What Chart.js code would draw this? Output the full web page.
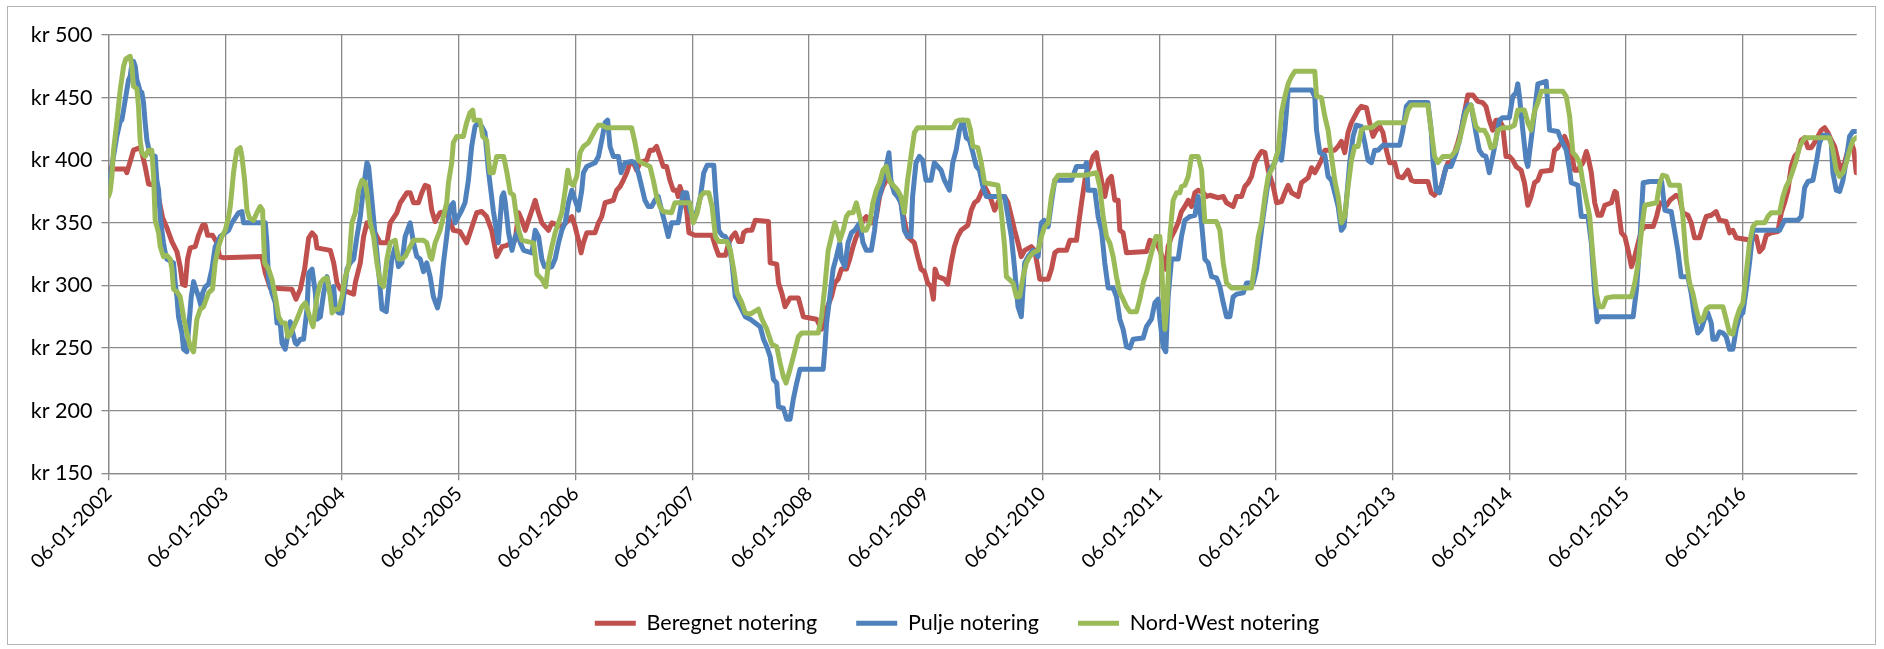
<!DOCTYPE html>
<html lang="da">
<head>
<meta charset="utf-8">
<title>Notering</title>
<script src="https://cdn.jsdelivr.net/npm/chart.js@4.4.1/dist/chart.umd.min.js"></script>
<style>
  html, body { margin: 0; padding: 0; background: #fff; }
  #ramme { width: 1884px; height: 649px; }
</style>
</head>
<body>
<div id="ramme"><canvas id="notering" width="1884" height="649"></canvas></div>
<script>
// Tid i år efter 06-01-2002, kr pr. enhed

const beregnetTid = [
  0, 0.143, 0.157, 0.186, 0.214, 0.271, 0.291, 0.314, 0.343, 0.4, 0.429, 0.463, 0.5, 0.543, 0.586, 0.614, 0.634, 0.657, 0.677, 0.7, 0.743, 0.771, 0.806, 0.829, 0.849, 0.891, 0.929, 0.951, 0.986, 1.314, 1.343, 1.386, 1.571, 1.606, 1.643, 1.68,
  1.715, 1.744, 1.772, 1.786, 1.9, 1.929, 1.957, 1.986, 2.1, 2.114, 2.157, 2.185, 2.214, 2.271, 2.328, 2.385, 2.413, 2.47, 2.499, 2.556, 2.584, 2.613, 2.655, 2.684, 2.712, 2.741, 2.769, 2.798, 2.84, 2.897, 2.954, 3.011, 3.068, 3.125, 3.154, 3.197, 3.239, 3.282, 3.325,
  3.37, 3.413, 3.456, 3.484, 3.513, 3.541, 3.57, 3.598, 3.627, 3.655, 3.684, 3.712, 3.769, 3.798, 3.883, 3.94, 3.969, 3.997, 4.026, 4.048, 4.068, 4.097, 4.168, 4.197, 4.225, 4.254, 4.325, 4.353, 4.382, 4.41, 4.439, 4.467, 4.496, 4.524, 4.553, 4.61, 4.638, 4.667, 4.695, 4.724, 4.752, 4.781, 4.809, 4.838, 4.866, 4.88, 4.895, 4.923, 4.952, 4.972, 5.023,
  5.17, 5.199, 5.227, 5.284, 5.313, 5.341, 5.369, 5.398, 5.426, 5.44, 5.469, 5.511, 5.54, 5.653, 5.668, 5.724, 5.739, 5.767, 5.795, 5.838, 5.909, 5.952, 6.065, 6.108, 6.122, 6.151, 6.193, 6.222, 6.25, 6.278, 6.321, 6.349, 6.378, 6.406, 6.435, 6.463, 6.491, 6.52, 6.548, 6.577, 6.605, 6.634, 6.662, 6.69,
  6.702, 6.731, 6.759, 6.788, 6.817, 6.845, 6.903, 6.931, 6.96, 6.989, 7.017, 7.046, 7.066, 7.08, 7.103, 7.16, 7.189, 7.218, 7.246, 7.275, 7.304, 7.361, 7.39, 7.418, 7.447, 7.476, 7.504, 7.533, 7.562, 7.59, 7.619, 7.648, 7.676, 7.705, 7.734, 7.762, 7.791, 7.819, 7.848, 7.905, 7.934, 7.963, 7.977, 8.049, 8.077, 8.106, 8.135, 8.206, 8.235, 8.292, 8.307, 8.335, 8.364,
  8.377, 8.406, 8.434, 8.463, 8.477, 8.506, 8.534, 8.563, 8.591, 8.62, 8.649, 8.663, 8.691, 8.72, 8.891, 8.92, 8.977, 9.006, 9.034, 9.057, 9.077, 9.106, 9.134, 9.163, 9.191, 9.22, 9.249, 9.277, 9.306, 9.334, 9.377, 9.406, 9.434, 9.506, 9.549, 9.577, 9.634, 9.663, 9.706, 9.734, 9.763, 9.791, 9.82, 9.849, 9.877, 9.906, 9.934, 9.977, 10.006,
  10.048, 10.077, 10.105, 10.134, 10.191, 10.219, 10.276, 10.305, 10.333, 10.362, 10.39, 10.419, 10.504, 10.533, 10.561, 10.59, 10.618, 10.647, 10.675, 10.704, 10.732, 10.775, 10.803, 10.832, 10.86, 10.889, 10.917, 10.946, 10.974, 11.017, 11.046, 11.088, 11.131, 11.16, 11.188, 11.302, 11.33, 11.359, 11.387, 11.416, 11.444, 11.473, 11.501, 11.53, 11.558, 11.587, 11.615, 11.644, 11.687,
  11.728, 11.771, 11.799, 11.828, 11.857, 11.885, 11.914, 11.943, 11.971, 12, 12.029, 12.057, 12.1, 12.129, 12.158, 12.186, 12.215, 12.244, 12.272, 12.358, 12.387, 12.415, 12.444, 12.473, 12.501, 12.53, 12.559, 12.587, 12.63, 12.659, 12.673, 12.702, 12.731, 12.759, 12.788, 12.817, 12.874, 12.903, 12.917, 12.946, 12.96, 12.989, 13.017, 13.046, 13.074, 13.103, 13.132, 13.16, 13.232, 13.261, 13.289, 13.347, 13.375,
  13.429, 13.457, 13.486, 13.529, 13.557, 13.586, 13.629, 13.657, 13.686, 13.729, 13.771, 13.8, 13.857, 13.886, 13.914, 13.943, 14.071, 14.114, 14.143, 14.171, 14.2, 14.243, 14.3, 14.329, 14.357, 14.386, 14.414, 14.443, 14.471, 14.5, 14.529, 14.557, 14.586, 14.614, 14.643, 14.671, 14.7, 14.729, 14.757, 14.786, 14.814, 14.843, 14.871, 14.9, 14.929, 14.951, 14.971
];
const beregnetKr = [
  393, 393, 390, 399, 408, 410, 404, 395, 381, 380, 370, 354, 346, 335, 327, 315, 301, 300, 321, 330, 331, 340, 348, 348, 340, 340, 334, 323, 322, 323, 310, 298, 297, 289, 297, 313,
  338, 342, 339, 330, 328, 318, 302, 297, 293, 302, 318, 339, 350, 344, 334, 334, 350, 358, 366, 374, 374, 366, 366, 374, 380, 379, 360, 351, 358, 359, 344, 343, 334, 350, 358, 359, 355, 344, 323,
  331, 332, 334, 336, 358, 352, 344, 352, 360, 368, 358, 350, 344, 350, 347, 352, 355, 347, 336, 326, 334, 342, 342, 350, 355, 366, 368, 376, 379, 384, 390, 398, 398, 392, 398, 400, 408, 408, 411, 403, 395, 395, 384, 376, 376, 371, 379, 371, 360, 342, 340,
  340, 331, 324, 324, 334, 339, 342, 335, 335, 342, 344, 344, 352, 351, 318, 317, 302, 294, 283, 290, 290, 275, 273, 265, 270, 281, 291, 302, 305, 313, 313, 321, 331, 339, 344, 352, 355, 350, 350, 355, 371, 379, 384, 387,
  382, 376, 374, 366, 352, 339, 334, 323, 313, 311, 302, 299, 289, 313, 307, 305, 301, 318, 331, 339, 344, 348, 360, 366, 368, 374, 379, 374, 368, 360, 366, 371, 371, 366, 355, 344, 334, 323, 328, 331, 328, 313, 305, 305, 313, 326, 328, 328, 336, 336, 347, 366, 384,
  390, 395, 403, 406, 398, 384, 371, 384, 387, 368, 368, 344, 342, 326, 327, 336, 334, 328, 321, 313, 331, 339, 344, 350, 359, 363, 368, 363, 374, 376, 374, 371, 372, 370, 371, 366, 363, 371, 371, 379, 382, 387, 398, 403, 407, 406, 392, 379, 366,
  367, 374, 380, 374, 371, 382, 386, 394, 390, 395, 400, 408, 408, 411, 415, 406, 422, 430, 435, 440, 443, 442, 430, 419, 424, 427, 422, 408, 398, 398, 387, 386, 392, 384, 383, 383, 374, 372, 376, 379, 390, 398, 398, 406, 414, 424, 438, 452, 452,
  447, 446, 443, 432, 424, 432, 432, 427, 403, 403, 400, 395, 392, 382, 364, 371, 382, 384, 391, 392, 408, 410, 414, 419, 412, 406, 392, 392, 398, 407, 403, 390, 366, 356, 356, 364, 366, 375, 374, 352, 342, 339, 328, 315, 323, 334, 344, 347, 347, 355, 366, 364, 368,
  372, 370, 358, 356, 350, 338, 338, 347, 355, 356, 359, 352, 351, 342, 344, 338, 336, 339, 327, 330, 340, 342, 343, 358, 366, 376, 395, 403, 406, 416, 418, 410, 410, 414, 419, 424, 426, 422, 416, 411, 400, 392, 398, 408, 414, 408, 390
];

const puljeTid = [
  0, 0.014, 0.043, 0.071, 0.1, 0.114, 0.129, 0.157, 0.171, 0.186, 0.2, 0.214, 0.229, 0.243, 0.257, 0.271, 0.286, 0.3, 0.314, 0.329, 0.343, 0.371, 0.4, 0.414, 0.429, 0.443, 0.457, 0.471, 0.486, 0.5, 0.557, 0.571, 0.586, 0.6, 0.629, 0.643, 0.671, 0.686, 0.709, 0.729, 0.749, 0.771, 0.794, 0.806, 0.829, 0.857, 0.886, 0.914, 0.943, 0.957, 1, 1.029, 1.057, 1.114, 1.143, 1.157, 1.343, 1.357, 1.371, 1.4, 1.429, 1.443, 1.471, 1.486, 1.514, 1.529, 1.557, 1.571, 1.6, 1.614, 1.643, 1.671,
  1.701, 1.715, 1.744, 1.772, 1.786, 1.815, 1.843, 1.872, 1.9, 1.929, 1.943, 1.972, 2, 2.014, 2.043, 2.071, 2.1, 2.128, 2.157, 2.185, 2.214, 2.228, 2.256, 2.285, 2.313, 2.342, 2.379, 2.399, 2.427, 2.456, 2.484, 2.513, 2.541, 2.584, 2.613, 2.641, 2.67, 2.698, 2.726, 2.755, 2.783, 2.818, 2.84, 2.869, 2.897, 2.926, 2.954, 2.969, 2.997, 3.026, 3.054, 3.083, 3.111, 3.14, 3.168, 3.197, 3.225, 3.254, 3.296, 3.339,
  3.37, 3.385, 3.399, 3.427, 3.456, 3.484, 3.513, 3.527, 3.556, 3.627, 3.655, 3.684, 3.712, 3.735, 3.769, 3.798, 3.826, 3.855, 3.883, 3.912, 3.94, 3.969, 3.997, 4.026, 4.054, 4.068, 4.097, 4.168, 4.197, 4.225, 4.254, 4.276, 4.296, 4.325, 4.368, 4.39, 4.425, 4.481, 4.51, 4.538, 4.567, 4.595, 4.624, 4.652, 4.681, 4.709, 4.738, 4.766, 4.795, 4.823, 4.88, 4.923, 4.952, 4.98, 5.009,
  5.043, 5.071, 5.099, 5.128, 5.185, 5.199, 5.227, 5.256, 5.284, 5.313, 5.341, 5.369, 5.412, 5.455, 5.497, 5.54, 5.582, 5.611, 5.639, 5.668, 5.696, 5.724, 5.739, 5.781, 5.81, 5.838, 5.866, 5.895, 5.923, 6.122, 6.136, 6.151, 6.179, 6.207, 6.236, 6.264, 6.278, 6.307, 6.335, 6.364, 6.392, 6.435, 6.463, 6.491, 6.534, 6.562, 6.591, 6.619, 6.662, 6.685,
  6.702, 6.731, 6.759, 6.788, 6.817, 6.845, 6.874, 6.888, 6.917, 6.946, 6.974, 7.003, 7.046, 7.074, 7.103, 7.132, 7.16, 7.203, 7.232, 7.261, 7.289, 7.318, 7.347, 7.375, 7.404, 7.433, 7.461, 7.49, 7.519, 7.676, 7.705, 7.734, 7.762, 7.791, 7.819, 7.848, 7.877, 7.92, 7.963, 7.991, 8.014, 8.049, 8.077, 8.106, 8.249, 8.292, 8.364,
  8.377, 8.391, 8.449, 8.477, 8.506, 8.534, 8.563, 8.606, 8.634, 8.663, 8.691, 8.72, 8.749, 8.777, 8.863, 8.891, 8.934, 8.963, 8.991, 9.006, 9.034, 9.057, 9.077, 9.106, 9.163, 9.191, 9.22, 9.263, 9.306, 9.334, 9.363, 9.391, 9.42, 9.449, 9.491, 9.52, 9.549, 9.577, 9.606, 9.634, 9.663, 9.72, 9.749, 9.806, 9.834, 9.863, 9.891, 9.92, 9.949, 9.991, 10.02,
  10.048, 10.077, 10.105, 10.305, 10.333, 10.348, 10.376, 10.419, 10.447, 10.476, 10.504, 10.533, 10.561, 10.584, 10.604, 10.632, 10.661, 10.689, 10.732, 10.761, 10.789, 10.818, 10.846, 10.875, 10.917, 11.06, 11.088, 11.117, 11.145, 11.302, 11.33, 11.345, 11.373, 11.402, 11.43, 11.459, 11.501, 11.544, 11.573, 11.615, 11.644, 11.672,
  11.713, 11.742, 11.771, 11.799, 11.828, 11.857, 11.885, 11.914, 11.943, 12, 12.029, 12.057, 12.072, 12.086, 12.115, 12.143, 12.158, 12.186, 12.215, 12.244, 12.315, 12.344, 12.415, 12.444, 12.487, 12.516, 12.53, 12.587, 12.616, 12.673, 12.702, 12.731, 12.751, 12.774, 13.06, 13.089, 13.117, 13.146, 13.203, 13.304, 13.332, 13.375,
  13.386, 13.414, 13.443, 13.471, 13.529, 13.557, 13.586, 13.614, 13.643, 13.671, 13.7, 13.729, 13.743, 13.771, 13.8, 13.829, 13.857, 13.886, 13.914, 13.943, 13.971, 14, 14.029, 14.057, 14.086, 14.314, 14.357, 14.471, 14.5, 14.529, 14.557, 14.6, 14.629, 14.657, 14.686, 14.729, 14.757, 14.771, 14.8, 14.829, 14.857, 14.886, 14.914, 14.943, 14.971
];
const puljeKr = [
  381, 387, 403, 419, 431, 432, 440, 456, 464, 467, 477, 479, 475, 464, 460, 455, 454, 446, 430, 416, 410, 404, 403, 384, 376, 355, 344, 334, 326, 321, 318, 302, 291, 275, 262, 249, 247, 265, 291, 303, 297, 291, 283, 294, 299, 301, 313, 331, 336, 339, 342, 344, 350, 358, 359, 350, 350, 334, 305, 294, 286, 270, 270, 254, 249, 257, 271, 265, 254, 253, 257, 257,
  282, 310, 313, 294, 273, 275, 294, 307, 294, 299, 281, 278, 278, 291, 313, 318, 321, 339, 355, 379, 398, 395, 368, 339, 313, 281, 279, 297, 321, 331, 315, 318, 339, 350, 334, 323, 321, 311, 318, 307, 291, 282, 291, 318, 339, 363, 366, 350, 355, 360, 366, 384, 411, 427, 430, 427, 422, 392, 360, 334,
  371, 374, 366, 342, 328, 339, 344, 334, 328, 326, 344, 339, 321, 315, 314, 315, 321, 334, 344, 350, 366, 376, 368, 360, 376, 390, 395, 398, 403, 416, 430, 432, 411, 403, 403, 390, 398, 399, 398, 390, 379, 368, 363, 363, 368, 371, 360, 350, 339, 350, 350, 374, 374, 360, 352,
  360, 371, 390, 396, 396, 376, 344, 340, 339, 334, 318, 291, 283, 275, 273, 270, 267, 257, 251, 243, 225, 222, 203, 202, 193, 193, 209, 222, 233, 233, 249, 270, 291, 313, 323, 334, 321, 315, 334, 342, 344, 350, 334, 328, 328, 344, 368, 376, 395, 406,
  384, 374, 371, 366, 344, 339, 339, 371, 398, 403, 400, 384, 384, 398, 395, 392, 384, 376, 398, 408, 424, 432, 418, 416, 406, 395, 392, 379, 371, 371, 355, 339, 313, 283, 275, 318, 323, 328, 323, 350, 352, 347, 366, 384, 384, 395, 395,
  398, 376, 376, 355, 344, 318, 298, 298, 291, 273, 265, 251, 250, 257, 258, 267, 273, 286, 289, 273, 251, 247, 291, 321, 321, 339, 352, 355, 356, 371, 350, 321, 318, 307, 306, 299, 286, 275, 275, 291, 293, 294, 302, 302, 313, 334, 355, 374, 392, 398, 408,
  400, 424, 456, 456, 451, 424, 406, 404, 387, 384, 374, 363, 344, 347, 368, 398, 419, 428, 427, 414, 400, 398, 408, 408, 412, 412, 424, 443, 446, 446, 424, 400, 376, 374, 384, 395, 395, 406, 416, 438, 444, 444,
  422, 408, 404, 403, 390, 403, 416, 432, 434, 434, 451, 454, 461, 451, 424, 400, 395, 416, 438, 461, 463, 424, 423, 416, 408, 392, 382, 380, 355, 355, 334, 294, 271, 275, 275, 297, 334, 382, 383, 383, 360, 359,
  359, 344, 328, 307, 307, 294, 275, 262, 265, 273, 278, 270, 257, 257, 263, 262, 259, 249, 249, 265, 275, 278, 297, 318, 344, 344, 352, 352, 355, 378, 383, 384, 398, 414, 420, 420, 414, 390, 376, 375, 384, 400, 419, 423, 423
];

const nordWestTid = [
  0, 0.014, 0.029, 0.043, 0.071, 0.1, 0.129, 0.149, 0.186, 0.2, 0.214, 0.243, 0.257, 0.271, 0.286, 0.314, 0.343, 0.371, 0.386, 0.4, 0.429, 0.443, 0.471, 0.5, 0.529, 0.543, 0.557, 0.586, 0.614, 0.643, 0.671, 0.7, 0.729, 0.757, 0.786, 0.814, 0.857, 0.891, 0.914, 0.943, 0.971, 1, 1.029, 1.043, 1.057, 1.071, 1.086, 1.1, 1.129, 1.143, 1.166, 1.186, 1.206, 1.243, 1.271, 1.3, 1.32, 1.337, 1.371, 1.4, 1.429, 1.457, 1.486, 1.514, 1.537, 1.557, 1.586, 1.614, 1.657, 1.686,
  1.701, 1.729, 1.752, 1.786, 1.815, 1.843, 1.872, 1.9, 1.915, 1.943, 1.972, 2, 2.028, 2.057, 2.085, 2.114, 2.142, 2.171, 2.199, 2.214, 2.242, 2.271, 2.299, 2.328, 2.356, 2.385, 2.413, 2.456, 2.484, 2.513, 2.541, 2.584, 2.613, 2.698, 2.726, 2.755, 2.769, 2.798, 2.84, 2.869, 2.897, 2.912, 2.94, 2.954, 2.983, 3.04, 3.068, 3.097, 3.12, 3.131, 3.182, 3.205, 3.239, 3.268, 3.296, 3.325,
  3.385, 3.413, 3.442, 3.47, 3.49, 3.513, 3.541, 3.641, 3.655, 3.67, 3.712, 3.746, 3.769, 3.798, 3.826, 3.855, 3.883, 3.912, 3.934, 3.954, 3.983, 4.011, 4.04, 4.068, 4.111, 4.14, 4.168, 4.197, 4.225, 4.268, 4.481, 4.51, 4.538, 4.567, 4.638, 4.667, 4.695, 4.724, 4.752, 4.823, 4.852, 4.98, 5.009,
  5.043, 5.071, 5.099, 5.142, 5.17, 5.199, 5.227, 5.298, 5.327, 5.355, 5.384, 5.426, 5.455, 5.497, 5.568, 5.597, 5.639, 5.682, 5.724, 5.753, 5.781, 5.804, 5.832, 5.866, 5.909, 5.938, 6.08, 6.108, 6.136, 6.165, 6.193, 6.222, 6.264, 6.293, 6.321, 6.344, 6.378, 6.406, 6.435, 6.463, 6.491, 6.52, 6.548, 6.577, 6.605, 6.634, 6.662, 6.69,
  6.702, 6.731, 6.759, 6.788, 6.817, 6.845, 6.874, 6.903, 6.931, 7.232, 7.261, 7.289, 7.361, 7.384, 7.404, 7.447, 7.476, 7.504, 7.619, 7.648, 7.676, 7.691, 7.748, 7.777, 7.805, 7.834, 7.862, 7.891, 7.92, 7.963, 7.991, 8.02, 8.049, 8.077, 8.106, 8.135, 8.364,
  8.463, 8.491, 8.52, 8.549, 8.577, 8.606, 8.634, 8.663, 8.691, 8.72, 8.749, 8.806, 8.834, 8.863, 8.891, 8.92, 8.949, 8.971, 9.006, 9.02, 9.034, 9.049, 9.069, 9.091, 9.12, 9.149, 9.177, 9.191, 9.22, 9.249, 9.277, 9.334, 9.363, 9.377, 9.391, 9.491, 9.52, 9.549, 9.577, 9.62, 9.791, 9.82, 9.849, 9.877, 9.906, 9.934, 9.977, 10.02,
  10.048, 10.077, 10.105, 10.134, 10.162, 10.333, 10.348, 10.39, 10.419, 10.447, 10.476, 10.504, 10.533, 10.561, 10.59, 10.618, 10.647, 10.675, 10.704, 10.732, 10.761, 10.818, 10.875, 11.103, 11.131, 11.16, 11.302, 11.33, 11.359, 11.387, 11.43, 11.501, 11.544, 11.573, 11.601, 11.63, 11.672,
  11.713, 11.742, 11.785, 11.814, 11.842, 11.871, 11.9, 11.943, 12, 12.043, 12.072, 12.129, 12.158, 12.186, 12.215, 12.244, 12.272, 12.458, 12.487, 12.516, 12.544, 12.573, 12.602, 12.63, 12.659, 12.688, 12.716, 12.745, 12.768, 12.802, 12.831, 12.888, 13.046, 13.074, 13.103, 13.132, 13.16, 13.261, 13.289, 13.312, 13.347, 13.375,
  13.457, 13.486, 13.514, 13.543, 13.571, 13.6, 13.629, 13.657, 13.686, 13.714, 13.829, 13.857, 13.886, 13.914, 13.943, 13.971, 14, 14.029, 14.057, 14.086, 14.114, 14.186, 14.214, 14.243, 14.314, 14.343, 14.371, 14.4, 14.429, 14.457, 14.486, 14.529, 14.743, 14.771, 14.8, 14.829, 14.857, 14.886, 14.914, 14.943, 14.971
];
const nordWestKr = [
  371, 375, 387, 408, 430, 456, 475, 481, 483, 475, 459, 457, 443, 416, 406, 403, 408, 408, 387, 352, 342, 331, 323, 324, 321, 313, 297, 295, 291, 275, 262, 251, 247, 273, 281, 283, 294, 297, 318, 331, 339, 344, 355, 363, 376, 390, 400, 408, 410, 403, 384, 360, 354, 352, 358, 363, 360, 318, 313, 305, 291, 275, 270, 270, 259, 261, 267, 273, 283, 286,
  282, 273, 267, 291, 302, 305, 306, 291, 278, 281, 281, 291, 307, 315, 350, 358, 376, 384, 382, 374, 350, 339, 318, 302, 299, 321, 334, 336, 321, 321, 323, 331, 336, 336, 334, 323, 321, 334, 344, 355, 366, 382, 398, 414, 419, 419, 430, 438, 440, 432, 432, 419, 416, 390, 390, 403,
  403, 390, 374, 372, 358, 344, 336, 334, 323, 309, 305, 299, 318, 331, 342, 350, 358, 376, 392, 382, 380, 387, 406, 411, 414, 419, 424, 428, 428, 426, 426, 414, 400, 398, 395, 384, 371, 363, 359, 358, 366, 366, 350,
  358, 371, 374, 374, 363, 339, 335, 335, 328, 313, 294, 286, 278, 277, 281, 273, 265, 253, 251, 238, 227, 222, 231, 243, 259, 262, 262, 275, 299, 328, 339, 350, 336, 344, 355, 358, 358, 366, 355, 344, 344, 350, 366, 376, 382, 392, 395, 384,
  382, 379, 376, 371, 358, 384, 403, 422, 426, 426, 431, 432, 432, 424, 411, 410, 398, 382, 380, 358, 331, 307, 302, 291, 291, 307, 318, 323, 326, 328, 339, 347, 350, 371, 384, 388, 388,
  390, 379, 355, 339, 334, 323, 307, 294, 289, 283, 279, 279, 289, 302, 310, 321, 331, 339, 339, 318, 291, 265, 286, 339, 368, 374, 374, 379, 380, 387, 403, 403, 392, 371, 351, 351, 344, 318, 302, 298, 298, 318, 339, 350, 371, 387, 395, 408,
  438, 451, 461, 467, 471, 471, 451, 450, 435, 424, 403, 384, 371, 350, 355, 379, 400, 411, 411, 424, 426, 426, 430, 430, 440, 444, 444, 424, 403, 398, 403, 403, 408, 416, 427, 438, 444,
  427, 424, 424, 419, 410, 411, 424, 426, 426, 428, 440, 440, 430, 424, 439, 446, 455, 455, 451, 435, 406, 403, 398, 382, 368, 355, 323, 294, 283, 283, 290, 291, 291, 302, 318, 344, 364, 366, 382, 388, 387, 380,
  380, 355, 321, 302, 294, 281, 271, 273, 281, 283, 283, 273, 262, 261, 273, 281, 286, 310, 334, 347, 350, 350, 355, 358, 358, 371, 379, 384, 392, 400, 411, 418, 418, 408, 392, 387, 390, 398, 408, 416, 418
];

const serier = ['Beregnet notering', 'Pulje notering', 'Nord-West notering'];
const farver = ['#C0504D', '#4F81BD', '#9BBB59'];
const startAar = 2002;
const slutTid = 14.975;
const kr = { min: 150, max: 500, trin: 50 };

const datoSkrift = { family: 'Lato, "Open Sans", sans-serif', size: 19.5 };
const krSkrift = { family: 'Lato, "Open Sans", sans-serif', size: 21.5 };
const forklaringSkrift = { family: 'Lato, "Open Sans", sans-serif', size: 21.5 };
const gitter = '#8a8a8a';

function punkter(tid, vaerdi) {
  return tid.map((t, i) => ({ x: t, y: vaerdi[i] }));
}

// tynd grå ramme rundt om hele diagrammet
const rammePlugin = {
  id: 'ramme',
  beforeDraw(chart) {
    const c = chart.ctx;
    c.save();
    c.fillStyle = '#fff';
    c.fillRect(0, 0, chart.width, chart.height);
    c.strokeStyle = '#b3b3b3';
    c.lineWidth = 1;
    c.strokeRect(7.5, 6.5, 1868, 638);
    c.restore();
  }
};

const datasaet = [
  punkter(beregnetTid, beregnetKr),
  punkter(puljeTid, puljeKr),
  punkter(nordWestTid, nordWestKr)
].map((data, i) => ({
  label: serier[i],
  data,
  borderColor: farver[i],
  backgroundColor: farver[i],
  order: 3 - i
}));

new Chart(document.getElementById('notering'), {
  type: 'line',
  data: { datasets: datasaet },
  options: {
    responsive: false,
    animation: false,
    devicePixelRatio: 1,
    // højre side negativ, så forklaringen står lidt til højre for midten
    layout: { padding: { top: 35, left: 24, right: -6, bottom: 5 } },
    elements: {
      line: { borderWidth: 5, tension: 0, borderJoinStyle: 'round', borderCapStyle: 'round' },
      point: { radius: 0, hoverRadius: 0 }
    },
    scales: {
      x: {
        type: 'linear',
        min: 0,
        max: slutTid,
        // fast højde til de skrå datoer, og luft til højre for plotområdet
        afterFit: s => { s.height = 100.3; s.paddingRight = 27.3; },
        grid: { color: gitter, lineWidth: 1.3, tickLength: 7 },
        border: { color: gitter, width: 1.3 },
        ticks: {
          stepSize: 1,
          autoSkip: false,
          includeBounds: false,
          minRotation: 45,
          maxRotation: 45,
          padding: 2,
          color: '#000',
          font: datoSkrift,
          callback: v => '06-01-' + (startAar + v)
        }
      },
      y: {
        min: kr.min,
        max: kr.max,
        afterFit: s => { s.width = 84.5; },
        grid: { color: gitter, lineWidth: 1.3, tickLength: 7 },
        border: { color: gitter, width: 1.3 },
        ticks: {
          stepSize: kr.trin,
          padding: 9,
          color: '#000',
          font: krSkrift,
          callback: v => 'kr ' + v
        }
      }
    },
    plugins: {
      tooltip: { enabled: false },
      legend: {
        position: 'bottom',
        labels: {
          boxWidth: 41,
          boxHeight: 5,
          padding: 39,
          color: '#000',
          font: forklaringSkrift,
          sort: (a, b) => a.datasetIndex - b.datasetIndex,
          generateLabels: chart => Chart.defaults.plugins.legend.labels.generateLabels(chart)
            .map(l => Object.assign(l, { lineWidth: 0 }))
        }
      }
    }
  },
  plugins: [rammePlugin]
});
</script>
</body>
</html>
